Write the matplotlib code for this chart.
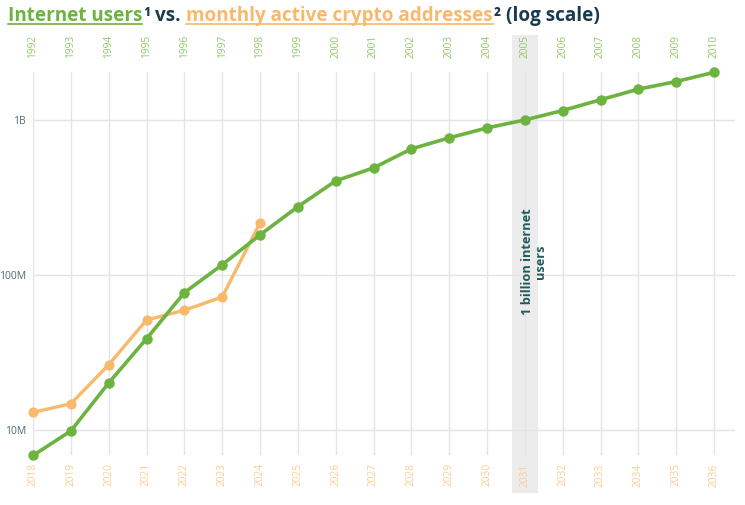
import numpy as np
import matplotlib
matplotlib.use("Agg")
import matplotlib.pyplot as plt
from matplotlib.patches import Rectangle
from matplotlib.lines import Line2D
from matplotlib.transforms import blended_transform_factory
from matplotlib.ticker import FixedLocator, NullLocator

plt.rcParams['font.family'] = ['Open Sans', 'DejaVu Sans']

# ---- data ----
internet_years = [str(y) for y in range(1992, 2011)]
crypto_years = [str(y) for y in range(2018, 2037)]
internet_users = [6.8e6, 9.8e6, 20e6, 38.6e6, 76.6e6, 116e6, 181e6, 275e6, 404e6,
                  490e6, 650e6, 766e6, 888e6, 1.0e9, 1.15e9, 1.35e9, 1.58e9, 1.77e9, 2.03e9]
crypto_addresses = [12.9e6, 14.7e6, 26.2e6, 51e6, 59e6, 71.8e6, 216e6]
ytick_values = [1e7, 1e8, 1e9]
ytick_labels = ["10M", "100M", "1B"]
highlight_index = 13
highlight_text = "1 billion internet\nusers"

GREEN = '#6cb33f'
ORANGE = '#f8b96a'
NAVY = '#1c3a4e'
TEAL = '#1f5b5b'

W, H = 745, 505
fig = plt.figure(figsize=(W / 100, H / 100), dpi=100)
ax = fig.add_axes([33 / W, 50 / H, 702 / W, 383 / H])
ax.set_facecolor('none')

idx = np.arange(len(internet_years))
ax.set_yscale('log')
ax.set_xlim(0, 18 + 21 / 37.85)
ax.set_ylim(6.85e6, 2.04e9)

for s in ax.spines.values():
    s.set_visible(False)

ax.set_axisbelow(True)
ax.set_xticks(idx)
ax.set_xticklabels(crypto_years)
ax.yaxis.set_major_locator(FixedLocator(ytick_values))
ax.yaxis.set_minor_locator(NullLocator())
ax.set_yticklabels(ytick_labels)
ax.tick_params(axis='x', length=0, pad=6, labelrotation=90, labelcolor='#f9cd95', labelsize=7.3)
ax.tick_params(axis='y', length=0, pad=5, labelcolor='#4f6b73', labelsize=7.5)
ax.grid(True, color='#e4e4e4', lw=1)

sec = ax.secondary_xaxis('top')
sec.set_xticks(idx)
sec.set_xticklabels(internet_years)
sec.tick_params(axis='x', length=0, pad=10, labelrotation=90, labelcolor='#8dc866', labelsize=7.3)
for s in sec.spines.values():
    s.set_visible(False)

# highlight band (drawn at figure level, beneath the axes)
tr = blended_transform_factory(ax.transData, fig.transFigure)
band = Rectangle((highlight_index - 0.35, 12 / H), 0.7, 458 / H, transform=tr,
                 facecolor='#ececec', edgecolor='none', zorder=-1)
fig.add_artist(band)
ax.text(highlight_index + 0.24, 1.21e8, highlight_text, rotation=90, ha='center', va='center',
        multialignment='center', fontsize=9.2, fontweight='bold', color=TEAL, linespacing=1.0)

# lines
ax.plot(idx[:len(crypto_addresses)], crypto_addresses, color=ORANGE, lw=2.4, marker='o',
        ms=6.3, clip_on=False, zorder=3)
ax.plot(idx, internet_users, color=GREEN, lw=2.6, marker='o', ms=6.5, clip_on=False, zorder=4)

# title
pieces = [("Internet users", GREEN, True), ("¹", NAVY, False), (" ", None, False),
          ("vs.", NAVY, False), (" ", None, False),
          ("monthly active crypto addresses", ORANGE, True), ("²", NAVY, False),
          (" ", None, False), ("(log scale)", NAVY, False)]
renderer = fig.canvas.get_renderer()


def build(fs, draw=True):
    x = 8.0
    base_y = H - 21
    arts = []
    probe = fig.text(0, 0, "a a", fontsize=fs, fontweight='bold')
    w1 = probe.get_window_extent(renderer).width
    probe.remove()
    probe = fig.text(0, 0, "aa", fontsize=fs, fontweight='bold')
    w2 = probe.get_window_extent(renderer).width
    probe.remove()
    space = w1 - w2
    for s, c, ul in pieces:
        if c is None:
            x += space
            continue
        t = fig.text(x / W, base_y / H, s, fontsize=fs, fontweight='bold', color=c,
                     va='baseline', ha='left')
        bb = t.get_window_extent(renderer)
        if ul and draw:
            fig.add_artist(Line2D([bb.x0 / W, bb.x1 / W], [(base_y - 3) / H] * 2,
                                  transform=fig.transFigure, color=c, lw=1.2))
        arts.append(t)
        x = bb.x1 + 0.5
    if not draw:
        for t in arts:
            t.remove()
    return x - 8.0


total = build(12, draw=False)
fs = 12 * 591 / total
build(fs, draw=True)

fig.savefig('out.png', dpi=100, facecolor='white')
